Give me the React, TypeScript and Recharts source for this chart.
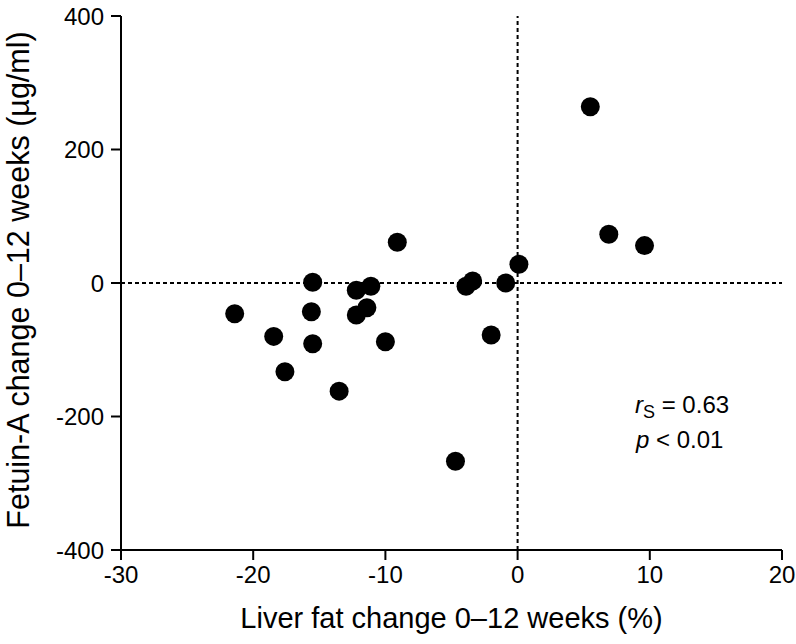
import React from 'react';
import { ScatterChart, Scatter, XAxis, YAxis, ReferenceLine } from 'recharts';

const liverFatChange = [-21.4, -15.5, -15.6, -18.45, -15.5, -17.6, -13.5, -12.2, -11.1, -12.2, -11.4, -10.0, -9.1, 0.1, -3.9, -3.4, -0.9, -2.0, -4.7, 5.5, 6.9, 9.6];
const fetuinChange = [-46, 1, -43, -80, -91, -133, -162, -11, -5, -48, -37, -88, 61, 28, -5, 3, 0, -78, -267, 264, 73, 56];
const xTicks = [-30, -20, -10, 0, 10, 20];
const yTicks = [-400, -200, 0, 200, 400];
const xTitle = 'Liver fat change 0–12 weeks (%)';
const yTitle = 'Fetuin-A change 0–12 weeks (µg/ml)';

const data = liverFatChange.map((x, i) => ({ x, y: fetuinChange[i] }));

const FONT = 'Liberation Sans, Arial, Helvetica, sans-serif';

const Annotation = () => (
  <g fontFamily={FONT} fill="#000">
    <text x={635} y={413} fontSize={24}>
      <tspan fontStyle="italic">r</tspan>
      <tspan fontSize={18} dy={5}>S</tspan>
      <tspan dy={-5}> = 0.63</tspan>
    </text>
    <text x={636} y={448} fontSize={24}>
      <tspan fontStyle="italic">p</tspan>
      <tspan> &lt; 0.01</tspan>
    </text>
    <text transform="translate(29,280) rotate(-90)" textAnchor="middle" fontSize={30.5}>{yTitle}</text>
  </g>
);

export default function App() {
  return (
    <div style={{ position: 'absolute', left: 0, top: 0, width: 796, height: 644, background: '#fff' }}>
      <ScatterChart width={796} height={644} margin={{ top: 16, right: 14, bottom: 0, left: 0 }}>
        <XAxis
          type="number"
          dataKey="x"
          domain={[-30, 20]}
          ticks={xTicks}
          height={94}
          stroke="#000"
          strokeWidth={2}
          tickSize={10}
          tick={{ fill: '#000', fontSize: 24, fontFamily: FONT, dy: 4 }}
          label={{ value: xTitle, position: 'insideBottom', offset: 16, fill: '#000', fontSize: 29, fontFamily: FONT }}
        />
        <YAxis
          type="number"
          dataKey="y"
          domain={[-400, 400]}
          ticks={yTicks}
          width={121}
          stroke="#000"
          strokeWidth={2}
          tickSize={10}
          tick={{ fill: '#000', fontSize: 24, fontFamily: FONT, dx: -5 }}
        />
        <ReferenceLine x={0} stroke="#000" strokeWidth={2} strokeDasharray="4 3" />
        <ReferenceLine y={0} stroke="#000" strokeWidth={2} strokeDasharray="4 3" />
        <Scatter data={data} fill="#000" isAnimationActive={false} shape={(p: any) => <circle cx={p.cx} cy={p.cy} r={9.5} fill="#000" />} />
        <Annotation />
      </ScatterChart>
    </div>
  );
}
